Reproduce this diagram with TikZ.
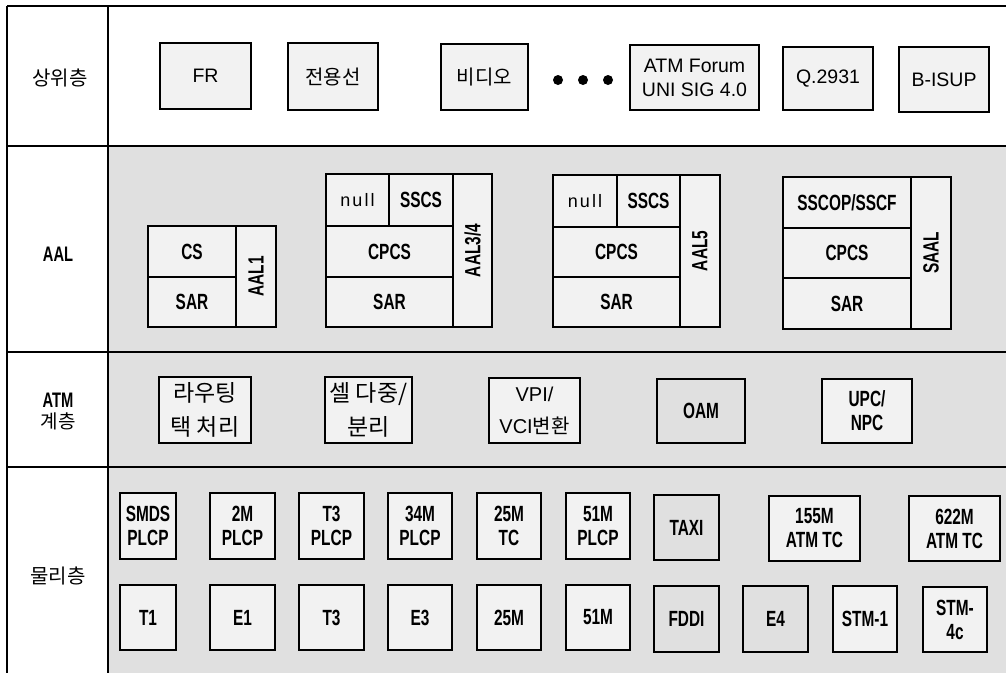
\documentclass[tikz,border=0pt]{standalone}
\usepackage{fontspec}
\setmainfont{Liberation Sans}
\newfontfamily\kr{Noto Sans CJK KR}
\newfontfamily\cnd[FakeStretch=0.7]{Liberation Sans}
\newfontfamily\spc[LetterSpace=12]{Liberation Sans}
\newcommand\boxat[7][]{\node[bx,#1,minimum width={(#5-#3)*1pt},minimum height={(#6-#4)*1pt}] (#2) at ({(#3+#5)/2},{(#4+#6)/2}) {#7};}
\tikzset{
  bx/.style={draw, line width=1.6pt, inner sep=0pt, align=center, fill=boxfill},
  frame/.style={line width=1.8pt},
  top/.style={font=\fontsize{19.5}{24}\selectfont},
  ktop/.style={font=\kr\fontsize{20}{24}\selectfont},
  katm/.style={font=\kr\fontsize{23}{34}\selectfont},
  cellt/.style={font=\cnd\bfseries\fontsize{22}{24}\selectfont},
  phys/.style={font=\cnd\bfseries\fontsize{22}{24}\selectfont},
  reg/.style={font=\spc\fontsize{18}{22}\selectfont},
  lbl/.style={inner sep=0pt, align=center},
  dotc/.style={circle, fill=black, inner sep=0pt, minimum size=10pt},
  shade/.style={fill=bgfill},
}
\definecolor{bgfill}{gray}{0.88}
\definecolor{boxfill}{gray}{0.95}
\begin{document}
\begin{tikzpicture}[x=1pt,y=-1pt]
\useasboundingbox (0,0) rectangle (1006,673);
\fill[white] (0,0) rectangle (1006,673);
\fill[bgfill] (108,146) rectangle (1006,673);
% frame
\draw[frame] (7,6) -- (1006,6);
\draw[frame] (7,6) -- (7,673);
\draw[frame] (108,6) -- (108,673);
\draw[frame] (7,146) -- (1006,146);
\draw[frame] (7,352) -- (1006,352);
\draw[frame] (7,467) -- (1006,467);
% left labels
\node[lbl, font=\kr\fontsize{20}{24}\selectfont] (l1) at (60,78) {상위층};
\node[lbl, font=\cnd\bfseries\fontsize{21}{22}\selectfont] (l2) at (58,254) {AAL};
\node[lbl, font=\cnd\bfseries\fontsize{21}{22}\selectfont] (l3a) at (58,400) {ATM};
\node[lbl, font=\kr\fontsize{19}{22}\selectfont] (l3b) at (58,421) {계층};
\node[lbl, font=\kr\fontsize{20}{24}\selectfont] (l4) at (58,576) {물리층};
% top row
\begin{scope}[every node/.append style={fill=white}]
\boxat[top]{fr}{160}{43}{251}{109}{FR}
\boxat[ktop]{jy}{288}{43}{378}{110}{전용선}
\boxat[ktop]{vid}{441}{44}{528}{110}{비디오}
\boxat[top]{atmf}{630}{45}{759}{110}{ATM Forum\\UNI SIG 4.0}
\boxat[top]{q}{783}{47}{873}{110}{Q.2931}
\boxat[top]{bisup}{899}{47}{989}{112}{B-ISUP}
\end{scope}
\node[dotc] (d1) at (558,80) {};
\node[dotc] (d2) at (583,80) {};
\node[dotc] (d3) at (608,80) {};
% AAL1
\boxat[cellt]{a1cs}{148}{226}{236}{277}{CS}
\boxat[cellt]{a1sar}{148}{277}{236}{327}{SAR}
\boxat[cellt]{a1}{236}{226}{276}{327}{\rotatebox{90}{AAL1}}
% AAL3/4
\boxat[reg]{a3null}{326}{174}{389}{226}{null}
\boxat[cellt]{a3sscs}{389}{174}{453}{226}{SSCS}
\boxat[cellt]{a3cpcs}{326}{226}{453}{277}{CPCS}
\boxat[cellt]{a3sar}{326}{277}{453}{327}{SAR}
\boxat[cellt]{a3}{453}{174}{492}{327}{\rotatebox{90}{AAL3/4}}
% AAL5
\boxat[reg]{a5null}{553}{175}{617}{227}{null}
\boxat[cellt]{a5sscs}{617}{175}{680}{227}{SSCS}
\boxat[cellt]{a5cpcs}{553}{227}{680}{277}{CPCS}
\boxat[cellt]{a5sar}{553}{277}{680}{327}{SAR}
\boxat[cellt]{a5}{680}{175}{720}{327}{\rotatebox{90}{AAL5}}
% SAAL
\boxat[cellt]{ssscop}{783}{177}{911}{228}{SSCOP/SSCF}
\boxat[cellt]{scpcs}{783}{228}{911}{278}{CPCS}
\boxat[cellt]{ssar}{783}{278}{911}{329}{SAR}
\boxat[cellt]{saal}{911}{177}{951}{329}{\rotatebox{90}{SAAL}}
% ATM layer
\boxat[katm]{rt}{159}{377}{251}{443}{라우팅\\택 처리}
\boxat[katm]{mux}{325}{377}{412}{443}{셀 다중/\\분리}
\boxat[font=\fontsize{20}{32}\selectfont]{vpi}{489}{378}{580}{443}{VPI/\\VCI{\kr 변환}}
\boxat[cellt,shade]{oam}{657}{379}{745}{443}{OAM}
\boxat[cellt]{upc}{822}{379}{912}{443}{UPC/\\NPC}
% physical row 1
\boxat[phys]{p1}{120}{493}{176}{559}{SMDS\\PLCP}
\boxat[phys]{p2}{210}{493}{275}{559}{2M\\PLCP}
\boxat[phys]{p3}{299}{493}{364}{559}{T3\\PLCP}
\boxat[phys]{p4}{388}{493}{452}{559}{34M\\PLCP}
\boxat[phys]{p5}{477}{493}{541}{559}{25M\\TC}
\boxat[phys]{p6}{566}{493}{630}{559}{51M\\PLCP}
\boxat[phys,shade]{p7}{654}{495}{719}{560}{TAXI}
\boxat[phys]{p8}{769}{496}{860}{561}{155M\\ATM TC}
\boxat[phys]{p9}{909}{496}{1000}{561}{622M\\ATM TC}
% physical row 2
\boxat[phys]{q1}{120}{585}{176}{650}{T1}
\boxat[phys]{q2}{210}{585}{275}{650}{E1}
\boxat[phys]{q3}{299}{585}{364}{650}{T3}
\boxat[phys]{q4}{388}{585}{452}{650}{E3}
\boxat[phys]{q5}{477}{585}{541}{650}{25M}
\boxat[phys]{q6}{566}{585}{630}{650}{51M}
\boxat[phys,shade]{q7}{654}{586}{719}{652}{FDDI}
\boxat[phys,shade]{q8}{743}{586}{808}{652}{E4}
\boxat[phys]{q9}{833}{586}{897}{652}{STM-1}
\boxat[phys]{q10}{923}{587}{987}{652}{STM-\\4c}
\end{tikzpicture}
\end{document}
